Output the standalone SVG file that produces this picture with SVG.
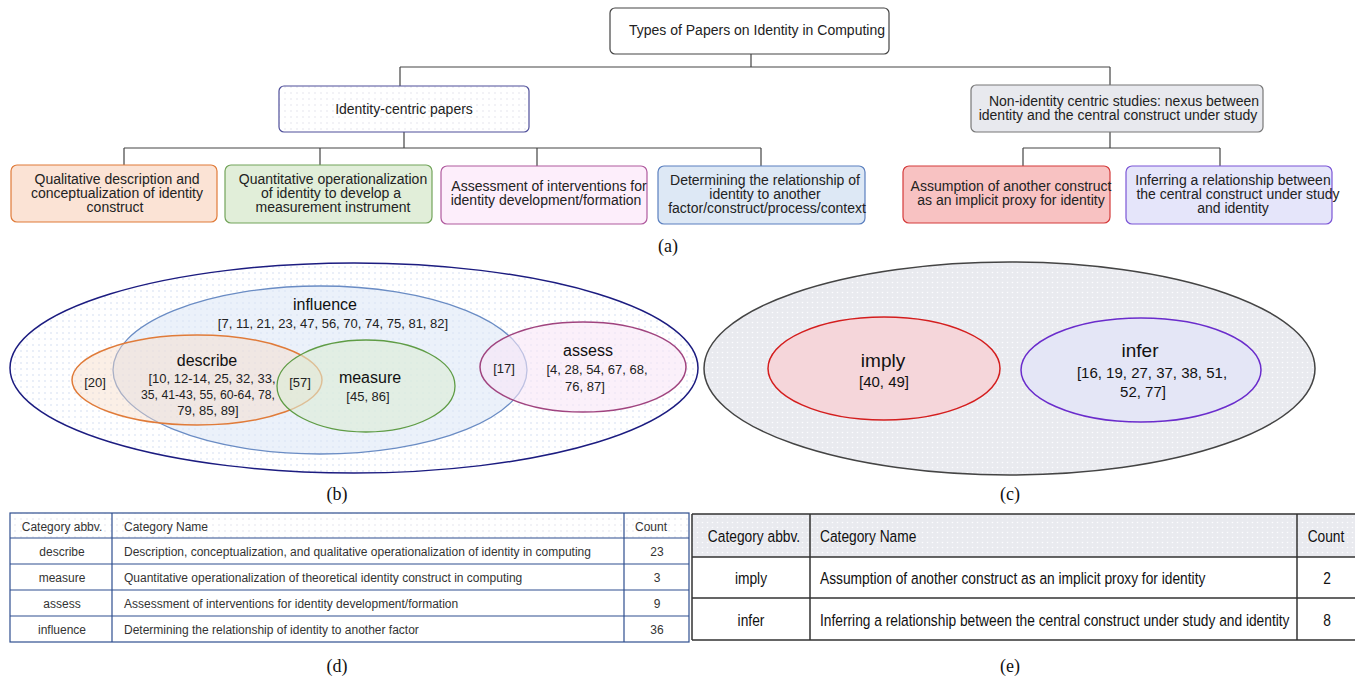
<svg xmlns="http://www.w3.org/2000/svg" width="1355" height="681" viewBox="0 0 1355 681">
<style>
  .t { font-family: "Liberation Sans", Arial, sans-serif; font-size: 14px; fill: #222; text-anchor: middle; }
  .cap { font-family: "Liberation Serif", "Times New Roman", serif; font-size: 18px; fill: #111; text-anchor: middle; }
  .conn { stroke: #444; stroke-width: 1.2; fill: none; }
  .vl { font-family: "Liberation Sans", Arial, sans-serif; font-size: 16px; fill: #111; text-anchor: middle; }
  .vn { font-family: "Liberation Sans", Arial, sans-serif; font-size: 13px; fill: #222; text-anchor: middle; }
  .td { font-family: "Liberation Sans", Arial, sans-serif; font-size: 12px; fill: #333; }
  .te { font-family: "Liberation Sans", Arial, sans-serif; font-size: 17px; fill: #111; }
  .grid-d { stroke: #2f4f8f; stroke-width: 1.2; fill: none; }
  .grid-e { stroke: #333; stroke-width: 1.5; fill: none; }
</style>
<defs>
  <pattern id="dotsBlue" width="6" height="6" patternUnits="userSpaceOnUse">
    <rect width="6" height="6" fill="#ffffff"/>
    <circle cx="3" cy="3" r="0.8" fill="#cfdcf0"/>
  </pattern>
  <pattern id="dotsLight" width="6" height="6" patternUnits="userSpaceOnUse">
    <rect width="6" height="6" fill="#ffffff"/>
    <circle cx="3" cy="3" r="0.7" fill="#dcdce8"/>
  </pattern>
  <pattern id="dotsGray" width="5" height="5" patternUnits="userSpaceOnUse">
    <rect width="5" height="5" fill="#e9eaef"/>
    <circle cx="2.5" cy="2.5" r="0.8" fill="#fcfcfe"/>
  </pattern>
</defs>

<rect width="1355" height="681" fill="#ffffff"/>

<!-- connectors -->
<g id="connectors">
  <path class="conn" d="M751 54 V67 M400 67 H1110 M400 67 V86 M1110 67 V85"/>
  <path class="conn" d="M404 132 V148 M124 148 H761 M124 148 V165 M320 148 V165 M537 148 V166 M761 148 V166"/>
  <path class="conn" d="M1110 132 V148 M1023 148 H1220 M1023 148 V166 M1220 148 V166"/>
</g>

<!-- (a) tree -->
<g id="root">
  <rect x="610" y="8" width="279" height="46" rx="5" fill="#ffffff" stroke="#444" stroke-width="1.2"/>
  <text class="t" x="757" y="35">Types of Papers on Identity in Computing</text>
</g>
<g id="identity-centric">
  <rect x="279" y="86" width="250" height="46" rx="5" fill="url(#dotsLight)" stroke="#4f4f9a" stroke-width="1.2"/>
  <text class="t" x="404" y="114">Identity-centric papers</text>
</g>
<g id="non-identity">
  <rect x="971" y="85" width="292" height="47" rx="5" fill="#e8e9ee" stroke="#777" stroke-width="1.2"/>
  <text class="t" x="1124" y="106">Non-identity centric studies: nexus between</text>
  <text class="t" x="1118" y="120">identity and the central construct under study</text>
</g>
<g id="qualitative">
  <rect x="11" y="165" width="206" height="57" rx="6" fill="#fbe3d5" stroke="#e07b39" stroke-width="1.2"/>
  <text class="t" x="117" y="184">Qualitative description and</text>
  <text class="t" x="117" y="198">conceptualization of identity</text>
  <text class="t" x="115" y="212">construct</text>
</g>
<g id="quantitative">
  <rect x="225" y="165" width="207" height="58" rx="6" fill="#e1eed9" stroke="#72a45a" stroke-width="1.2"/>
  <text class="t" x="333" y="184">Quantitative operationalization</text>
  <text class="t" x="331" y="198">of identity to develop a</text>
  <text class="t" x="333" y="212">measurement instrument</text>
</g>
<g id="assessment">
  <rect x="441" y="166" width="206" height="58" rx="6" fill="#fdeefb" stroke="#b05a9e" stroke-width="1.2"/>
  <text class="t" x="549" y="191">Assessment of interventions for</text>
  <text class="t" x="546" y="205">identity development/formation</text>
</g>
<g id="determining">
  <rect x="658" y="166" width="207" height="58" rx="6" fill="#dde8f5" stroke="#5a7fbf" stroke-width="1.2"/>
  <text class="t" x="765" y="185">Determining the relationship of</text>
  <text class="t" x="765" y="199">identity to another</text>
  <text class="t" x="767" y="213">factor/construct/process/context</text>
</g>
<g id="assumption">
  <rect x="903" y="166" width="207" height="57" rx="6" fill="#f8c2c2" stroke="#d43a3a" stroke-width="1.2"/>
  <text class="t" x="1011" y="191">Assumption of another construct</text>
  <text class="t" x="1011" y="205">as an implicit proxy for identity</text>
</g>
<g id="inferring">
  <rect x="1126" y="166" width="206" height="58" rx="6" fill="#e5e5fa" stroke="#7b55d6" stroke-width="1.2"/>
  <text class="t" x="1233" y="185">Inferring a relationship between</text>
  <text class="t" x="1238" y="199">the central construct under study</text>
  <text class="t" x="1233" y="213">and identity</text>
</g>
<text class="cap" x="668" y="252">(a)</text>

<!-- (b) Venn -->
<g id="venn-b">
  <ellipse id="outer-b" cx="354" cy="368" rx="344" ry="105" fill="url(#dotsBlue)" stroke="#1c1c80" stroke-width="1.5"/>
  <ellipse id="influence" cx="320" cy="370" rx="207" ry="84" fill="#dbe6f6" fill-opacity="0.55" stroke="#6a8cc4" stroke-width="1.3"/>
  <ellipse id="describe" cx="197" cy="380" rx="125" ry="45" fill="#f6dcc8" fill-opacity="0.45" stroke="#e07b39" stroke-width="1.5"/>
  <ellipse id="measure" cx="366" cy="386" rx="89" ry="46" fill="#dcecd6" fill-opacity="0.6" stroke="#5f9c45" stroke-width="1.3"/>
  <ellipse id="assess" cx="583" cy="367" rx="103" ry="45" fill="#f8e6f6" fill-opacity="0.6" stroke="#a0447f" stroke-width="1.5"/>
  <text class="vl" x="325" y="310">influence</text>
  <text class="vn" x="333" y="328">[7, 11, 21, 23, 47, 56, 70, 74, 75, 81, 82]</text>
  <text class="vl" x="207" y="366">describe</text>
  <text class="vn" x="212" y="383">[10, 12-14, 25, 32, 33,</text>
  <text class="vn" x="208" y="399" textLength="134" lengthAdjust="spacingAndGlyphs">35, 41-43, 55, 60-64, 78,</text>
  <text class="vn" x="208" y="415">79, 85, 89]</text>
  <text class="vn" x="95" y="387">[20]</text>
  <text class="vn" x="300" y="387">[57]</text>
  <text class="vl" x="370" y="383">measure</text>
  <text class="vn" x="368" y="401">[45, 86]</text>
  <text class="vn" x="504" y="373">[17]</text>
  <text class="vl" x="588" y="356">assess</text>
  <text class="vn" x="597" y="374">[4, 28, 54, 67, 68,</text>
  <text class="vn" x="585" y="391">76, 87]</text>
</g>
<text class="cap" x="337" y="500">(b)</text>

<!-- (c) Venn -->
<g id="venn-c">
  <ellipse id="outer-c" cx="1009.5" cy="368.5" rx="305.5" ry="106.5" fill="url(#dotsGray)" stroke="#444" stroke-width="1.5"/>
  <ellipse id="imply" cx="884" cy="368.5" rx="116" ry="51.5" fill="#f5d6da" stroke="#d41e1e" stroke-width="1.5"/>
  <ellipse id="infer" cx="1141" cy="370" rx="120" ry="52" fill="#e4e6f6" stroke="#6a2ccc" stroke-width="1.5"/>
  <text class="vl" x="883" y="367" style="font-size:19px">imply</text>
  <text class="vl" x="884" y="387" style="font-size:15px">[40, 49]</text>
  <text class="vl" x="1140" y="357" style="font-size:19px">infer</text>
  <text class="vl" x="1152" y="378" style="font-size:15px">[16, 19, 27, 37, 38, 51,</text>
  <text class="vl" x="1143" y="397" style="font-size:15px">52, 77]</text>
</g>
<text class="cap" x="1010" y="500">(c)</text>

<!-- (d) table -->
<g id="table-d">
  <rect x="10" y="513" width="679" height="25" fill="url(#dotsLight)"/>
  <rect class="grid-d" x="10" y="513" width="679" height="129"/>
  <path class="grid-d" d="M10 538 H689 M10 564 H689 M10 590 H689 M10 616 H689 M112 513 V642 M624 513 V642"/>
  <text class="td" x="62" y="531" text-anchor="middle">Category abbv.</text>
  <text class="td" x="124" y="531">Category Name</text>
  <text class="td" x="651" y="531" text-anchor="middle">Count</text>
  <text class="td" x="62" y="556" text-anchor="middle">describe</text>
  <text class="td" x="124" y="556">Description, conceptualization, and qualitative operationalization of identity in computing</text>
  <text class="td" x="657" y="556" text-anchor="middle">23</text>
  <text class="td" x="62" y="582" text-anchor="middle">measure</text>
  <text class="td" x="124" y="582">Quantitative operationalization of theoretical identity construct in computing</text>
  <text class="td" x="657" y="582" text-anchor="middle">3</text>
  <text class="td" x="62" y="608" text-anchor="middle">assess</text>
  <text class="td" x="124" y="608">Assessment of interventions for identity development/formation</text>
  <text class="td" x="657" y="608" text-anchor="middle">9</text>
  <text class="td" x="62" y="634" text-anchor="middle">influence</text>
  <text class="td" x="124" y="634">Determining the relationship of identity to another factor</text>
  <text class="td" x="657" y="634" text-anchor="middle">36</text>
</g>
<text class="cap" x="337" y="672">(d)</text>

<!-- (e) table -->
<g id="table-e">
  <rect x="692" y="514" width="663" height="43" fill="url(#dotsGray)"/>
  <path class="grid-e" d="M692 514 H1355 M692 557 H1355 M692 598 H1355 M692 640 H1355 M692 514 V640 M810 514 V640 M1297 514 V640"/>
  <g transform="translate(754 542) scale(0.81 1)"><text class="te" text-anchor="middle">Category abbv.</text></g>
  <g transform="translate(820 542) scale(0.81 1)"><text class="te">Category Name</text></g>
  <g transform="translate(1326 542) scale(0.81 1)"><text class="te" text-anchor="middle">Count</text></g>
  <g transform="translate(751 584) scale(0.81 1)"><text class="te" text-anchor="middle">imply</text></g>
  <g transform="translate(820 584) scale(0.81 1)"><text class="te">Assumption of another construct as an implicit proxy for identity</text></g>
  <g transform="translate(1327 584) scale(0.81 1)"><text class="te" text-anchor="middle">2</text></g>
  <g transform="translate(751 626) scale(0.81 1)"><text class="te" text-anchor="middle">infer</text></g>
  <g transform="translate(820 626) scale(0.81 1)"><text class="te">Inferring a relationship between the central construct under study and identity</text></g>
  <g transform="translate(1327 626) scale(0.81 1)"><text class="te" text-anchor="middle">8</text></g>
</g>
<text class="cap" x="1010" y="672">(e)</text>
</svg>
